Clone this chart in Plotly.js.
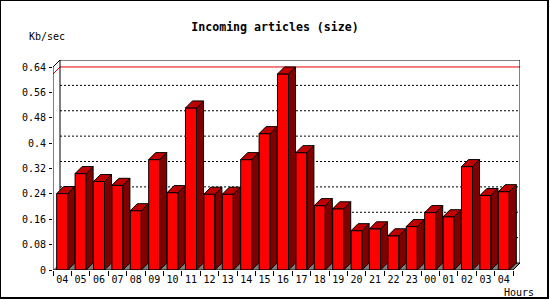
<!DOCTYPE html>
<html>
<head>
<meta charset="utf-8">
<script src="https://cdn.plot.ly/plotly-3.0.1.min.js"></script>
<style>
  html, body { margin: 0; padding: 0; background: #fff; }
  #wrap { position: relative; width: 550px; height: 300px; }
  #chart { width: 550px; height: 300px; }
  #frame { position: absolute; left: 0; top: 0; width: 549px; height: 299px; box-sizing: border-box;
           border-left: 1px solid #000; border-top: 1px solid #000; border-right: 2px solid #000; border-bottom: 2px solid #000;
           pointer-events: none; }
</style>
</head>
<body>
<div id="wrap"><div id="chart"></div><div id="frame"></div></div>
<script>
// ---- data ----
const HOURS = ["04","05","06","07","08","09","10","11","12","13","14","15","16","17","18","19","20","21","22","23","00","01","02","03","04"];
const KB_PER_SEC = [0.241,0.304,0.279,0.267,0.187,0.348,0.244,0.511,0.239,0.239,0.348,0.430,0.618,0.370,0.203,0.193,0.124,0.130,0.108,0.137,0.181,0.168,0.326,0.235,0.247];
const Y_TICK_VALUES = [0,0.08,0.16,0.24,0.32,0.4,0.48,0.56,0.64];
const Y_TICK_LABELS = ["0","0.08","0.16","0.24","0.32","0.4","0.48","0.56","0.64"];
const TITLE = "Incoming articles (size)";
const Y_LABEL = "Kb/sec";
const X_LABEL = "Hours";

// ---- style / geometry ----
const W = 550, H = 300;
const M = {l: 53, r: 30, t: 60, b: 30};
const plotW = W - M.l - M.r, plotH = H - M.t - M.b;
const N = HOURS.length;
const Y_MAX = Y_TICK_VALUES[Y_TICK_VALUES.length - 1];
const DEPTH_PX = 7;
const slotPx = (plotW - DEPTH_PX) / N;
const DX = DEPTH_PX / slotPx;
const yPx = (plotH - DEPTH_PX) / Y_MAX;
const DY = DEPTH_PX / yPx;
const BAR_W = 0.6;
const X0 = -0.5, X1 = N - 0.5;
const FONT = "DejaVu Sans Mono, monospace";

const xs = HOURS.map((_, i) => i);
const shapes = [];
function poly(pts) { return "M" + pts.map(p => p[0] + "," + p[1]).join(" L") + " Z"; }
function line(pts) { return "M" + pts.map(p => p[0] + "," + p[1]).join(" L"); }

// floor
shapes.push({type: "path", xref: "x", yref: "y", layer: "below",
  path: poly([[X0, 0], [X1, 0], [X1 + DX, DY], [X0 + DX, DY]]),
  fillcolor: "#808080", line: {width: 0}});
// back gridlines
Y_TICK_VALUES.slice(1, -1).forEach(v => {
  shapes.push({type: "line", xref: "x", yref: "y", layer: "below",
    x0: X0 + DX, x1: X1 + DX, y0: v + DY, y1: v + DY,
    line: {color: "#000", width: 1, dash: "2px,2px"}});
});
// max line (red)
const maxV = Math.max(...KB_PER_SEC);
shapes.push({type: "path", xref: "x", yref: "y", layer: "below",
  path: line([[X0, maxV], [X0 + DX, maxV + DY], [X1 + DX, maxV + DY]]),
  line: {color: "#e00000", width: 1}});
// back plane frame
shapes.push({type: "rect", xref: "x", yref: "y", layer: "below",
  x0: X0 + DX, x1: X1 + DX, y0: DY, y1: Y_MAX + DY,
  line: {color: "#000", width: 1}});
// front y axis + diagonal
shapes.push({type: "path", xref: "x", yref: "y", layer: "above",
  path: line([[X0, 0], [X0, Y_MAX], [X0 + DX, Y_MAX + DY]]),
  line: {color: "#000", width: 1}});
// front x axis + diagonal
shapes.push({type: "path", xref: "x", yref: "y", layer: "above",
  path: line([[X0, 0], [X1, 0], [X1 + DX, DY]]),
  line: {color: "#000", width: 1}});
// 3D faces of bars
KB_PER_SEC.forEach((v, i) => {
  const xl = i - BAR_W / 2, xr = i + BAR_W / 2;
  shapes.push({type: "path", xref: "x", yref: "y", layer: "above",
    path: poly([[xr, 0], [xr, v], [xr + DX, v + DY], [xr + DX, DY]]),
    fillcolor: "#800000", line: {color: "#000", width: 1}});
  shapes.push({type: "path", xref: "x", yref: "y", layer: "above",
    path: poly([[xl, v], [xr, v], [xr + DX, v + DY], [xl + DX, v + DY]]),
    fillcolor: "#c00000", line: {color: "#000", width: 1}});
});

const trace = {
  type: "bar", x: xs, y: KB_PER_SEC, width: BAR_W,
  marker: {color: "#ff0000", line: {color: "#000", width: 1}},
  hoverinfo: "none"
};

const layout = {
  width: W, height: H,
  margin: M,
  paper_bgcolor: "#fff", plot_bgcolor: "rgba(0,0,0,0)",
  showlegend: false,
  font: {family: FONT, size: 10, color: "#000"},
  title: {text: "<b>" + TITLE + "</b>", font: {family: FONT, size: 11.6, color: "#000"},
          x: 0.5, xref: "container", xanchor: "center", y: 1 - 27 / H, yanchor: "middle"},
  xaxis: {range: [X0, X1 + DX], showgrid: false, zeroline: false, showline: false,
          tickmode: "array", tickvals: xs, ticktext: HOURS, ticks: "", ticklabelstandoff: 2,
          tickfont: {family: FONT, size: 10, color: "#000"},
          minor: {tickmode: "linear", tick0: 0.5, dtick: 1, ticks: "outside", ticklen: 5, tickcolor: "#000", tickwidth: 1, showgrid: false},
          fixedrange: true},
  yaxis: {range: [0, Y_MAX + DY], showgrid: false, zeroline: false, showline: false,
          tickmode: "array", tickvals: Y_TICK_VALUES, ticktext: Y_TICK_LABELS,
          ticks: "outside", ticklen: 3, tickcolor: "#000", tickwidth: 1, ticklabelstandoff: 1,
          tickfont: {family: FONT, size: 10, color: "#000"}, fixedrange: true},
  shapes: shapes,
  annotations: [
    {text: Y_LABEL, xref: "paper", yref: "paper", x: (47 - M.l) / plotW, y: (H - M.b - 37) / plotH,
     xanchor: "center", yanchor: "middle", showarrow: false, font: {family: FONT, size: 10, color: "#000"}},
    {text: X_LABEL, xref: "paper", yref: "paper", x: (536 - M.l) / plotW, y: (H - M.b - 292.5) / plotH,
     xanchor: "right", yanchor: "middle", showarrow: false, font: {family: FONT, size: 10, color: "#000"}}
  ]
};

Plotly.newPlot("chart", [trace], layout, {staticPlot: true, displayModeBar: false});
</script>
</body>
</html>
